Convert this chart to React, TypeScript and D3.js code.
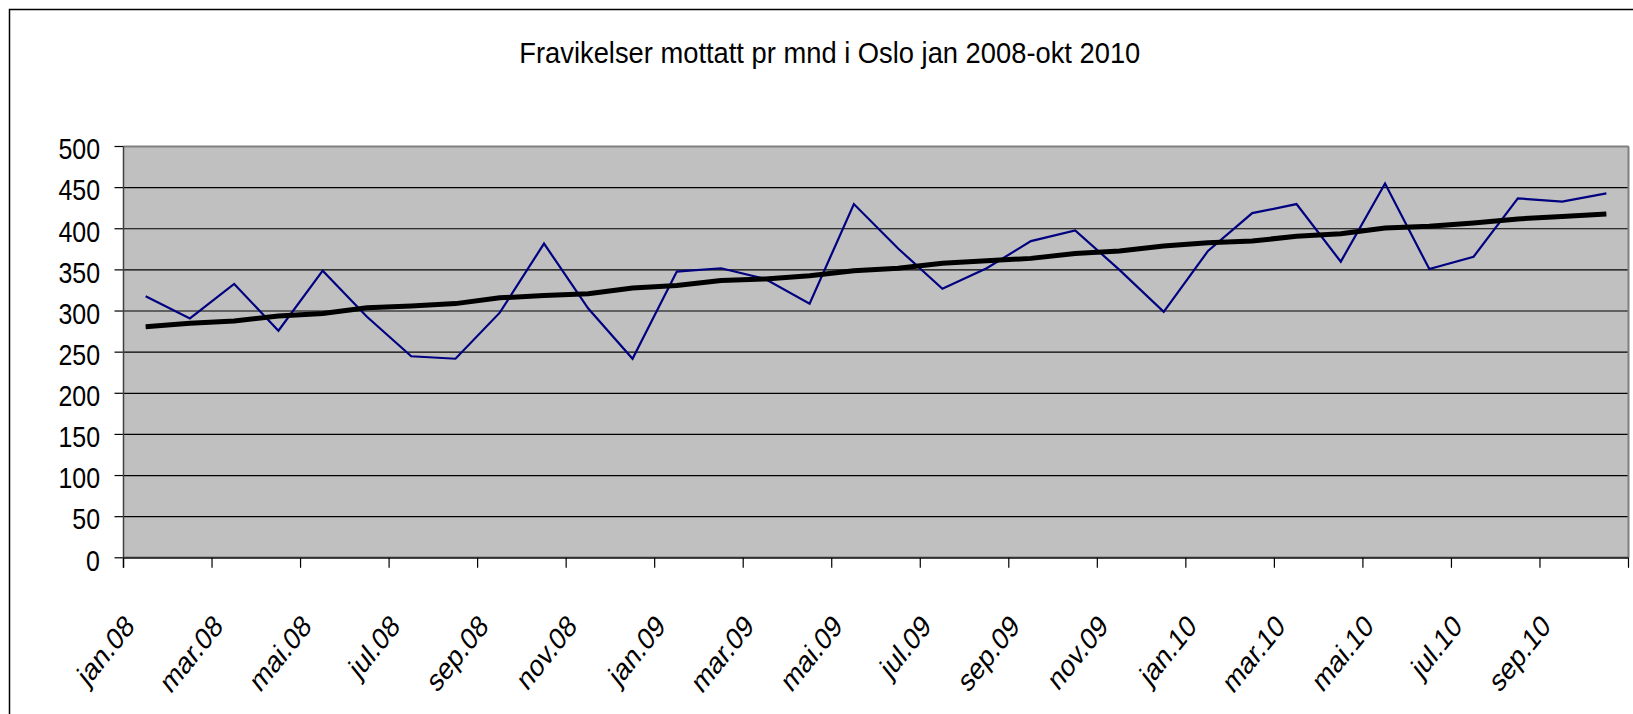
import React from "react";
import * as d3 from "d3";

const months = [
  "jan.08", "feb.08", "mar.08", "apr.08", "mai.08", "jun.08", "jul.08", "aug.08", "sep.08", "okt.08", "nov.08", "des.08",
  "jan.09", "feb.09", "mar.09", "apr.09", "mai.09", "jun.09", "jul.09", "aug.09", "sep.09", "okt.09", "nov.09", "des.09",
  "jan.10", "feb.10", "mar.10", "apr.10", "mai.10", "jun.10", "jul.10", "aug.10", "sep.10", "okt.10",
];

const received = [
  318, 291, 333, 276, 349, 293, 245, 242, 298, 382, 303, 242,
  348, 352, 339, 309, 430, 376, 327, 352, 385, 398, 350, 299,
  373, 419, 430, 360, 455, 351, 366, 437, 433, 443,
];

const trend = [
  281, 285, 288, 294, 297, 304, 306, 309, 316, 319, 321, 328,
  331, 337, 339, 343, 349, 352, 358, 361, 364, 370, 373, 379,
  383, 385, 391, 394, 401, 403, 407, 412, 415, 418,
];

const yTicks = [0, 50, 100, 150, 200, 250, 300, 350, 400, 450, 500];

const title = "Fravikelser mottatt pr mnd i Oslo jan 2008-okt 2010";

const font = "'Liberation Sans', Arial, sans-serif";

export default function App() {
  const width = 1633;
  const height = 714;
  const left = 123.5;
  const right = 1628.5;
  const top = 146.5;
  const bottom = 557.8;

  const x = d3.scaleBand().domain(months).range([left, right]).padding(0);
  const y = d3.scaleLinear().domain([0, 500]).range([bottom, top]);
  const cx = (m: string) => (x(m) as number) + x.bandwidth() / 2;

  const line = d3
    .line<number>()
    .x((_, i) => cx(months[i]))
    .y((d) => y(d));

  // a tick every second month, on the category edges
  const tickIdx = d3.range(0, months.length + 1, 2);

  return (
    <svg
      width={width}
      height={height}
      style={{ position: "absolute", left: 0, top: 0, background: "#fff" }}
    >
      <rect x={9.5} y={9.5} width={width + 20} height={height + 20} fill="#fff" stroke="#000" strokeWidth={1.5} />

      <text
        x={519.3}
        y={63.3}
        fontFamily={font}
        fontSize={30}
        textLength={621}
        lengthAdjust="spacingAndGlyphs"
      >
        {title}
      </text>

      <rect x={left} y={top} width={right - left} height={bottom - top} fill="#c0c0c0" />

      {yTicks.map((t) => (
        <g key={t}>
          <line x1={left} x2={right} y1={y(t)} y2={y(t)} stroke="#000" strokeWidth={1.2} />
          <line x1={left - 9} x2={left} y1={y(t)} y2={y(t)} stroke="#000" strokeWidth={1.2} />
          <text
            transform={`translate(100, ${y(t) + 12.8}) scale(0.86,1)`}
            textAnchor="end"
            fontFamily={font}
            fontSize={29}
          >
            {t}
          </text>
        </g>
      ))}

      <line x1={left} x2={right} y1={top} y2={top} stroke="#808080" strokeWidth={2} />
      <line x1={right} x2={right} y1={top} y2={bottom} stroke="#808080" strokeWidth={2} />
      <line x1={left} x2={left} y1={top} y2={bottom + 10} stroke="#404040" strokeWidth={1.5} />
      <line x1={left} x2={right} y1={bottom} y2={bottom} stroke="#303030" strokeWidth={2} />

      {tickIdx.map((i) => {
        const tx = left + i * x.bandwidth();
        return <line key={i} x1={tx} x2={tx} y1={bottom} y2={bottom + 10} stroke="#000" strokeWidth={1.2} />;
      })}

      <path d={line(received) || ""} fill="none" stroke="#000080" strokeWidth={2.2} strokeLinejoin="miter" />
      <path d={line(trend) || ""} fill="none" stroke="#000" strokeWidth={5} />

      {months.map((m, i) =>
        i % 2 === 0 ? (
          <text
            key={m}
            transform={`translate(${cx(m) - 10}, ${bottom + 70}) scale(0.8,1) rotate(-45)`}
            textAnchor="end"
            fontFamily={font}
            fontSize={31}
          >
            {m}
          </text>
        ) : null
      )}
    </svg>
  );
}
